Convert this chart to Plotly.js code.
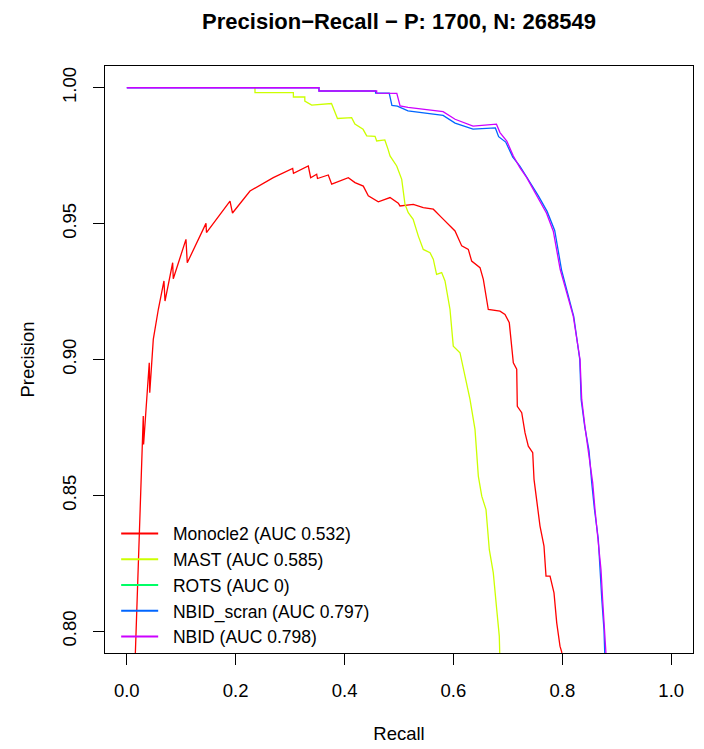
<!DOCTYPE html>
<html>
<head>
<meta charset="utf-8">
<script src="https://cdn.plot.ly/plotly-3.0.1.min.js"></script>
<style>html,body{margin:0;padding:0;background:#fff}#plot{width:704px;height:749px}</style>
</head>
<body>
<div id="plot"></div>
<script>
// ---- data ----
const seriesNames = ["Monocle2", "MAST", "ROTS", "NBID_scran", "NBID"];
const aucLabels = ["0.532", "0.585", "0", "0.797", "0.798"];
const seriesColors = ["#FF0000", "#CCFF00", "#00FF66", "#0066FF", "#CC00FF"];

const monocle2Recall = [0.0146,0.0274,0.0303,0.0309,0.0413,0.0422,0.0487,0.0579,0.0683,0.0702,0.0843,0.0854,0.1087,0.1111,0.1455,0.1464,0.1896,0.1942,0.2263,0.2691,0.3047,0.3062,0.3334,0.3378,0.3488,0.3503,0.3701,0.3764,0.4069,0.4192,0.4344,0.4436,0.462,0.4835,0.4987,0.5018,0.5263,0.5446,0.563,0.5784,0.5937,0.6029,0.6152,0.6273,0.6335,0.6488,0.6549,0.6598,0.664,0.6855,0.6947,0.7026,0.707,0.71,0.7162,0.7173,0.7254,0.7315,0.7375,0.7456,0.748,0.7529,0.759,0.7663,0.77,0.7774,0.7847,0.7897,0.7957,0.7989,0.8];
const monocle2Precision = [0.785,0.8669,0.8792,0.8687,0.8988,0.8878,0.9074,0.9184,0.9289,0.9215,0.9356,0.9297,0.9442,0.9356,0.9501,0.9467,0.9583,0.9539,0.962,0.9669,0.9703,0.9685,0.9712,0.9669,0.9682,0.9666,0.9679,0.9645,0.9669,0.9651,0.9638,0.9602,0.958,0.9596,0.9575,0.9565,0.9571,0.9559,0.9553,0.9522,0.9491,0.9473,0.9418,0.9405,0.9362,0.9338,0.9295,0.9233,0.9184,0.9178,0.9166,0.9135,0.9049,0.8988,0.8964,0.8828,0.8804,0.873,0.8681,0.8657,0.8559,0.8485,0.8387,0.8313,0.8203,0.8203,0.8141,0.8031,0.7945,0.7923,0.785];

const mastRecall = [0.2355,0.2355,0.306,0.306,0.327,0.327,0.3396,0.376,0.387,0.413,0.419,0.434,0.4407,0.456,0.459,0.474,0.4798,0.4835,0.4958,0.505,0.511,0.517,0.526,0.5355,0.5446,0.557,0.563,0.569,0.5784,0.5845,0.5937,0.5997,0.612,0.621,0.6304,0.6396,0.6457,0.652,0.6598,0.6659,0.6732,0.6795,0.6842,0.685,0.686];
const mastPrecision = [1.0,0.9982,0.9982,0.9966,0.9966,0.9951,0.9936,0.9942,0.9887,0.989,0.9866,0.9847,0.9823,0.9821,0.9804,0.9808,0.9774,0.9749,0.9712,0.9663,0.9571,0.954,0.9516,0.9454,0.9405,0.9393,0.9369,0.9313,0.932,0.9289,0.9184,0.9049,0.9025,0.8939,0.8853,0.8743,0.8571,0.8497,0.8448,0.83,0.8215,0.808,0.7982,0.7923,0.785];

const rotsRecall = [];
const rotsPrecision = [];

const nbidScranRecall = [0.0,0.353,0.353,0.457,0.457,0.482,0.487,0.497,0.5165,0.581,0.603,0.636,0.677,0.683,0.696,0.709,0.722,0.736,0.756,0.772,0.786,0.7985,0.8095,0.821,0.832,0.8345,0.841,0.849,0.854,0.859,0.866,0.869,0.8725,0.8765,0.878,0.879];
const nbidScranPrecision = [1.0,1.0,0.9988,0.9988,0.998,0.998,0.9935,0.9932,0.9915,0.9898,0.987,0.9848,0.9852,0.982,0.98,0.9745,0.9712,0.9667,0.9602,0.9545,0.9475,0.933,0.925,0.9158,0.9,0.8853,0.8755,0.8665,0.8546,0.8448,0.834,0.8227,0.8117,0.8006,0.7923,0.785];

const nbidRecall = [0.0,0.353,0.353,0.459,0.459,0.496,0.502,0.5165,0.581,0.603,0.636,0.679,0.6855,0.698,0.71,0.722,0.7346,0.753,0.771,0.7834,0.796,0.808,0.82,0.8325,0.8356,0.8417,0.8477,0.8558,0.86,0.866,0.871,0.874,0.878,0.88,0.881];
const nbidPrecision = [1.0,1.0,0.9988,0.9988,0.998,0.9979,0.9933,0.9928,0.9912,0.9884,0.9859,0.9866,0.9835,0.9804,0.9749,0.9706,0.9669,0.9602,0.9538,0.9472,0.9332,0.9246,0.916,0.9,0.8853,0.875,0.8669,0.8546,0.8448,0.8338,0.8227,0.8117,0.8006,0.7923,0.785];

const xTickVals = [0.0, 0.2, 0.4, 0.6, 0.8, 1.0];
const xTickText = ["0.0", "0.2", "0.4", "0.6", "0.8", "1.0"];
const yTickVals = [0.80, 0.85, 0.90, 0.95, 1.00];
const yTickText = ["0.80", "0.85", "0.90", "0.95", "1.00"];

const allRecall = [monocle2Recall, mastRecall, rotsRecall, nbidScranRecall, nbidRecall];
const allPrecision = [monocle2Precision, mastPrecision, rotsPrecision, nbidScranPrecision, nbidPrecision];

const FONT = '"Liberation Sans", Arial, Helvetica, sans-serif';
const PAD = '\u00A0\u00A0';

const traces = [];
// curves
for (let i = 0; i < seriesNames.length; i++) {
  traces.push({
    type: 'scatter', mode: 'lines',
    x: allRecall[i], y: allPrecision[i],
    line: {color: seriesColors[i], width: 1.3},
    legendgroup: 'g' + i, showlegend: false, hoverinfo: 'skip'
  });
}
// legend entries (thicker legend lines)
for (let i = 0; i < seriesNames.length; i++) {
  traces.push({
    type: 'scatter', mode: 'lines',
    x: [null], y: [null],
    name: PAD + seriesNames[i] + ' (AUC ' + aucLabels[i] + ')',
    line: {color: seriesColors[i], width: 2},
    legendgroup: 'g' + i, showlegend: true, hoverinfo: 'skip'
  });
}

const axisCommon = {
  showgrid: false, zeroline: false,
  showline: true, linecolor: '#000', linewidth: 1, mirror: true,
  ticks: 'outside', ticklen: 11, tickwidth: 1, tickcolor: '#000',
  tickfont: {family: FONT, size: 18.5, color: '#000'},
  automargin: false
};

const layout = {
  width: 704, height: 749,
  margin: {l: 105, r: 11, t: 66, b: 96, pad: 0},
  paper_bgcolor: '#fff', plot_bgcolor: '#fff',
  font: {family: FONT, color: '#000'},
  title: {
    text: '<b>Precision\u2212Recall \u2212 P: 1700, N: 268549</b>',
    font: {family: FONT, size: 22, color: '#000'},
    x: 0.5, xref: 'paper', xanchor: 'center',
    y: 1 - 21 / 749, yref: 'container', yanchor: 'middle'
  },
  xaxis: Object.assign({}, axisCommon, {
    range: [-0.04, 1.04],
    tickvals: xTickVals, ticktext: xTickText,
    ticklabelstandoff: 10,
    title: {text: 'Recall', font: {family: FONT, size: 18.5, color: '#000'}, standoff: 26}
  }),
  yaxis: Object.assign({}, axisCommon, {
    range: [0.792, 1.008],
    tickvals: yTickVals, ticktext: yTickText,
    tickangle: -90,
    ticklabelstandoff: 10,
    title: {text: 'Precision', font: {family: FONT, size: 18.5, color: '#000'}, standoff: 19}
  }),
  showlegend: true,
  legend: {
    x: 0.019, xanchor: 'left', y: 0.234, yanchor: 'top',
    bgcolor: 'rgba(0,0,0,0)', borderwidth: 0,
    font: {family: FONT, size: 17.5, color: '#000'},
    itemwidth: 37, tracegroupgap: 0,
    itemclick: false, itemdoubleclick: false
  },
  hovermode: false
};

Plotly.newPlot('plot', traces, layout, {displayModeBar: false, staticPlot: true});
</script>
</body>
</html>
